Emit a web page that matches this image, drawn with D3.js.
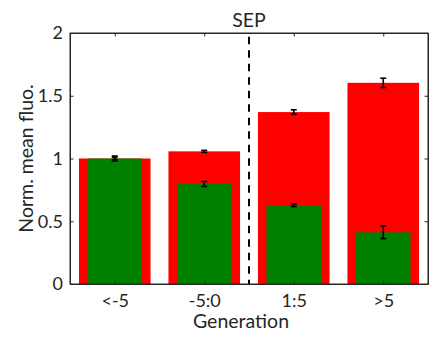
<!DOCTYPE html>
<html>
<head>
<meta charset="utf-8">
<script src="https://cdn.jsdelivr.net/npm/d3@7"></script>
<style>
  body { margin: 0; background: #fff; }
  text { font-family: "Lato", "Open Sans", sans-serif; fill: #262626; }
</style>
</head>
<body>
<svg id="chart" width="441" height="338"></svg>
<script>
// data
const categories = ["<-5", "-5:0", "1:5", ">5"];
const redValues = [1.0, 1.057, 1.37, 1.603];
const redErrors = [0.01, 0.008, 0.018, 0.037];
const greenValues = [1.0, 0.797, 0.627, 0.412];
const greenErrors = [0.02, 0.02, 0.01, 0.05];
const yTicks = [0, 0.5, 1, 1.5, 2];
const dividerAt = 2.5; // between "-5:0" and "1:5"

const svg = d3.select("#chart");
const margin = {left: 70, right: 13, top: 33, bottom: 54};
const width = 441 - margin.left - margin.right,
      height = 338 - margin.top - margin.bottom;

const g = svg.append("g").attr("transform", "translate(" + margin.left + "," + margin.top + ")");

const x = d3.scaleLinear().domain([0.5, 4.5]).range([0, width]);
const y = d3.scaleLinear().domain([0, 2]).range([height, 0]);
const step = x(2) - x(1);

// red bars (wide)
g.selectAll(".red").data(redValues).enter().append("rect")
  .attr("class", "red")
  .attr("x", (d, i) => x(i + 1) - step * 0.4)
  .attr("width", step * 0.8)
  .attr("y", d => y(d))
  .attr("height", d => y(0) - y(d))
  .attr("fill", "#ff0000");

// green bars (narrow)
g.selectAll(".green").data(greenValues).enter().append("rect")
  .attr("class", "green")
  .attr("x", (d, i) => x(i + 1) - step * 0.305)
  .attr("width", step * 0.61)
  .attr("y", d => y(d))
  .attr("height", d => y(0) - y(d))
  .attr("fill", "#008000");

// dashed separator
g.append("line")
  .attr("x1", x(dividerAt)).attr("x2", x(dividerAt))
  .attr("y1", y(1.97)).attr("y2", y(0))
  .attr("stroke", "#000").attr("stroke-width", 2)
  .attr("stroke-dasharray", "7.5,6");

// error bars
function errorBars(vals, errs, cls) {
  const eb = g.selectAll("." + cls).data(vals).enter().append("g").attr("class", cls);
  eb.append("line")
    .attr("x1", (d, i) => x(i + 1)).attr("x2", (d, i) => x(i + 1))
    .attr("y1", (d, i) => y(d - errs[i])).attr("y2", (d, i) => y(d + errs[i]))
    .attr("stroke", "#000").attr("stroke-width", 1.6);
  [-1, 1].forEach(s => {
    eb.append("line")
      .attr("x1", (d, i) => x(i + 1) - 3).attr("x2", (d, i) => x(i + 1) + 3)
      .attr("y1", (d, i) => y(d + s * errs[i])).attr("y2", (d, i) => y(d + s * errs[i]))
      .attr("stroke", "#000").attr("stroke-width", 1.6);
  });
}
errorBars(redValues, redErrors, "errR");
errorBars(greenValues, greenErrors, "errG");

// axes
const xAxis = d3.axisBottom(x).tickValues([1, 2, 3, 4])
  .tickFormat((d) => categories[d - 1]).tickSizeInner(-3.5).tickSizeOuter(0).tickPadding(10);
const yAxis = d3.axisLeft(y).tickValues(yTicks).tickFormat(d3.format("~g"))
  .tickSizeInner(-3.5).tickSizeOuter(0).tickPadding(7);

const gx = g.append("g").attr("transform", "translate(0," + height + ")").call(xAxis);
const gy = g.append("g").call(yAxis);
// mirrored ticks on top / right
const gxt = g.append("g").call(d3.axisTop(x).tickValues([1, 2, 3, 4]).tickFormat("").tickSizeInner(-3.5).tickSizeOuter(0));
const gyr = g.append("g").attr("transform", "translate(" + width + ",0)")
  .call(d3.axisRight(y).tickValues(yTicks).tickFormat("").tickSizeInner(-3.5).tickSizeOuter(0));

[gx, gy, gxt, gyr].forEach(a => {
  a.selectAll("path").attr("stroke", "#262626").attr("stroke-width", 1);
  a.selectAll(".tick line").attr("stroke", "#262626");
  a.selectAll("text").attr("fill", "#262626").style("font-size", "18px").style("font-family", "Lato, 'Open Sans', sans-serif");
});

// box
g.append("rect").attr("width", width).attr("height", height)
  .attr("fill", "none").attr("stroke", "#262626").attr("stroke-width", 1);

// labels
svg.append("text").attr("x", margin.left + width / 2).attr("y", 27)
  .attr("text-anchor", "middle").style("font-size", "19.5px").text("SEP");
svg.append("text").attr("x", 241).attr("y", 328)
  .attr("text-anchor", "middle").style("font-size", "19.5px").text("Generation");
svg.append("text")
  .attr("transform", "translate(33," + (margin.top + height / 2) + ") rotate(-90)")
  .attr("text-anchor", "middle").style("font-size", "19.5px").text("Norm. mean fluo.");
</script>
</body>
</html>
